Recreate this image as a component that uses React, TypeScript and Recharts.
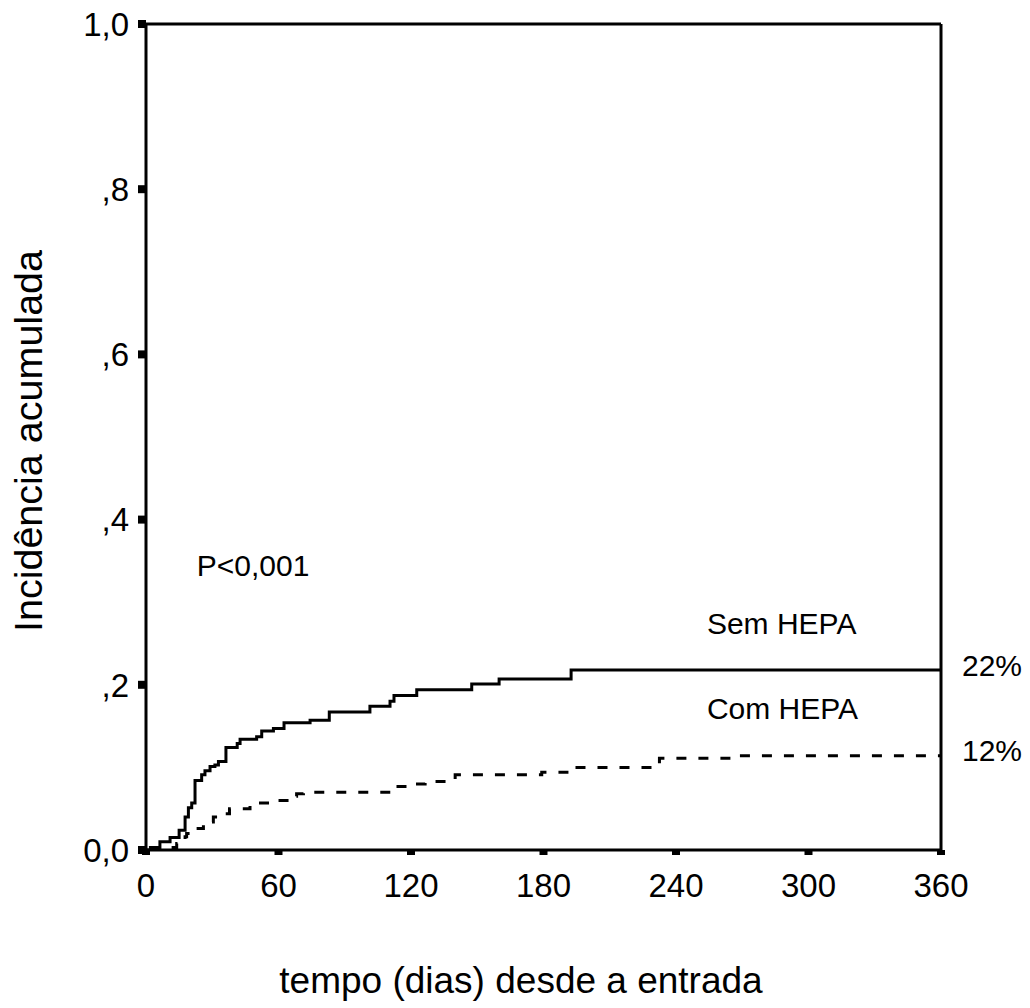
import {
    LineChart,
    Line,
    XAxis,
    YAxis,
    ReferenceLine,
    ReferenceDot,
} from "recharts";

// dias desde a entrada / incidencia acumulada
const semHepaDias = [0, 2, 6.3, 10.9, 15, 17.7, 19.2, 20.7, 22.2, 25.2, 26.7, 29, 31.2, 32.8, 36.2, 41.3, 42.6, 50.1, 52.4, 57.7, 62.5, 74.3, 83, 101.4, 110.5, 112.3, 122.6, 147.5, 159.9, 192.5, 360];
const semHepaInc = [0, 0.003, 0.01, 0.015, 0.024, 0.04, 0.051, 0.057, 0.084, 0.091, 0.096, 0.101, 0.103, 0.107, 0.124, 0.129, 0.134, 0.137, 0.144, 0.147, 0.154, 0.157, 0.167, 0.174, 0.18, 0.187, 0.194, 0.201, 0.207, 0.218, 0.218];

const comHepaDias = [11.6, 13.9, 16.2, 17.7, 18.4, 19.9, 22.2, 26, 29, 30.5, 33.5, 37.8, 47.1, 48.6, 57.7, 66, 68.2, 71.3, 112.7, 118, 126.4, 140, 179.2, 192.5, 232.5, 267.5, 360];
const comHepaInc = [0.003, 0.008, 0.012, 0.016, 0.02, 0.024, 0.026, 0.03, 0.034, 0.04, 0.044, 0.05, 0.054, 0.057, 0.06, 0.065, 0.068, 0.07, 0.077, 0.08, 0.083, 0.091, 0.094, 0.1, 0.111, 0.114, 0.114];

const xTicks = [0, 60, 120, 180, 240, 300, 360];
const yTicks = [0, 0.2, 0.4, 0.6, 0.8, 1];
const yTickLabels = ["0,0", ",2", ",4", ",6", ",8", "1,0"];

const semHepa = semHepaDias.map((t, i) => ({ t, v: semHepaInc[i] }));
const comHepa = comHepaDias.map((t, i) => ({ t, v: comHepaInc[i] }));

const FONT = "'Liberation Sans', Arial, sans-serif";

function note(text: string, dx: number, dy: number) {
    return (props: any) => {
        const vb = props.viewBox || {};
        const cx = vb.x + (vb.width || 0) / 2;
        const cy = vb.y + (vb.height || 0) / 2;
        return (
            <text x={cx + dx} y={cy + dy} fontSize={30} fontFamily={FONT} fill="#000">
                {text}
            </text>
        );
    };
}

export default function App() {
    return (
        <div style={{ position: "absolute", left: 0, top: 0, background: "#fff" }}>
            <LineChart
                width={1030}
                height={1008}
                margin={{ top: 24, right: 89, bottom: 0, left: 0 }}
            >
                <XAxis
                    type="number"
                    dataKey="t"
                    domain={[0, 360]}
                    ticks={xTicks}
                    height={158}
                    allowDataOverflow
                    axisLine={{ stroke: "#000", strokeWidth: 3 }}
                    tickLine={{ stroke: "#000", strokeWidth: 8 }}
                    tickSize={5}
                    tickMargin={19}
                    tick={{ fill: "#000", fontSize: 33, fontFamily: FONT }}
                    label={() => (
                        <text x={521} y={993} textAnchor="middle" fontSize={37} fontFamily={FONT} fill="#000">
                            tempo (dias) desde a entrada
                        </text>
                    )}
                />
                <YAxis
                    type="number"
                    domain={[0, 1]}
                    ticks={yTicks}
                    width={146}
                    allowDataOverflow
                    axisLine={{ stroke: "#000", strokeWidth: 3 }}
                    tickLine={{ stroke: "#000", strokeWidth: 8 }}
                    tickSize={8}
                    tickMargin={9}
                    tickFormatter={(v: number) => yTickLabels[yTicks.indexOf(v)]}
                    tick={{ fill: "#000", fontSize: 33, fontFamily: FONT }}
                    label={() => (
                        <text
                            x={42}
                            y={441}
                            transform="rotate(-90 42 441)"
                            textAnchor="middle"
                            fontSize={39.5}
                            fontFamily={FONT}
                            fill="#000"
                        >
                            Incidência acumulada
                        </text>
                    )}
                />

                <ReferenceLine y={1} stroke="#000" strokeWidth={3} />
                <ReferenceLine x={360} stroke="#000" strokeWidth={3} />

                <Line
                    data={semHepa}
                    dataKey="v"
                    type="stepAfter"
                    stroke="#000"
                    strokeWidth={3}
                    dot={false}
                    isAnimationActive={false}
                />
                <Line
                    data={comHepa}
                    dataKey="v"
                    type="stepAfter"
                    stroke="#000"
                    strokeWidth={3}
                    strokeDasharray="10 12"
                    dot={false}
                    isAnimationActive={false}
                />

                <ReferenceDot x={23} y={0.332} r={1} fill="none" stroke="none" label={note("P<0,001", 0, 0)} />
                <ReferenceDot x={254} y={0.262} r={1} fill="none" stroke="none" label={note("Sem HEPA", 0, 0)} />
                <ReferenceDot x={254} y={0.158} r={1} fill="none" stroke="none" label={note("Com HEPA", 0, 0)} />
                <ReferenceDot x={360} y={semHepaInc[semHepaInc.length - 1]} r={1} fill="none" stroke="none" label={note("22%", 21, 6)} />
                <ReferenceDot x={360} y={comHepaInc[comHepaInc.length - 1]} r={1} fill="none" stroke="none" label={note("12%", 21, 5)} />
            </LineChart>
        </div>
    );
}
